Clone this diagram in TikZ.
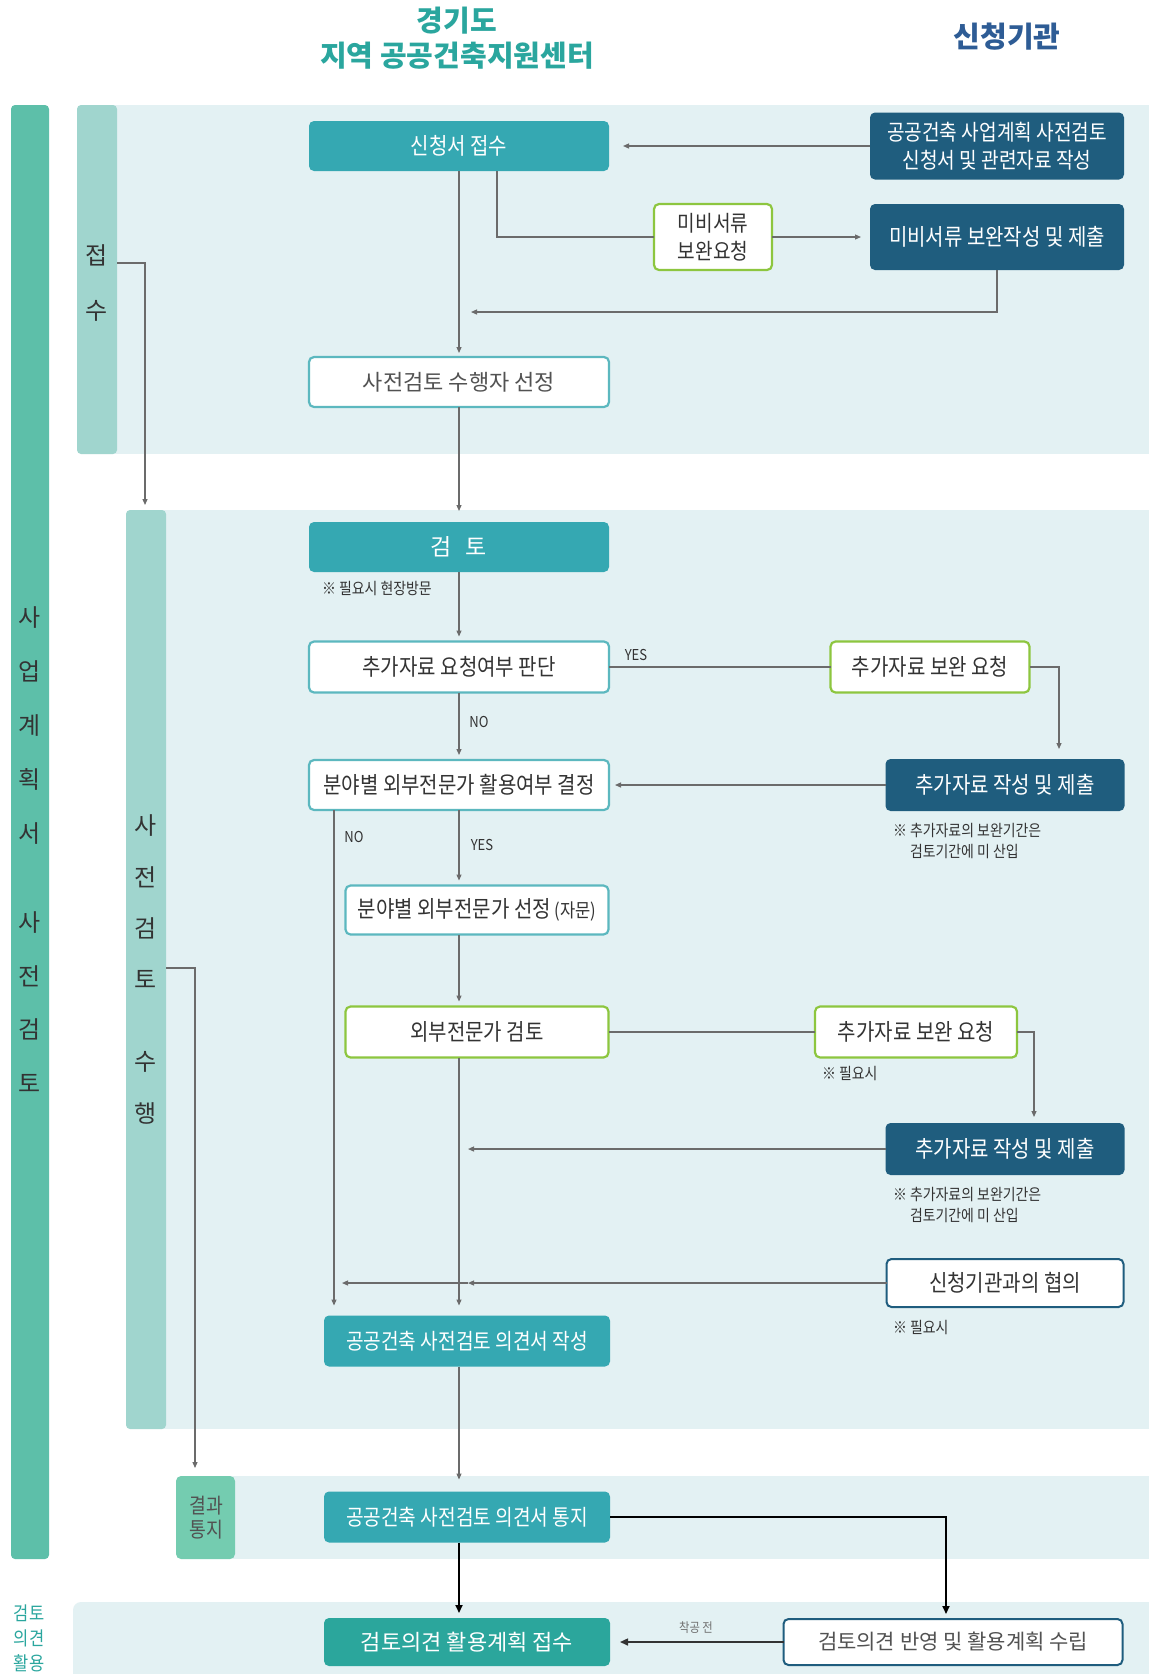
\documentclass[tikz,border=0pt]{standalone}
\usepackage{fontspec}
\setmainfont{Noto Sans CJK KR}
\newfontfamily\kr[FakeStretch=0.87]{Noto Sans CJK KR}
\newfontfamily\krn{Noto Sans CJK KR}
\usetikzlibrary{arrows.meta}
\definecolor{cTeal}{HTML}{35A8B2}
\definecolor{cTealD}{HTML}{2BA69C}
\definecolor{cNavy}{HTML}{1F5D7E}
\definecolor{cTealB}{HTML}{5CB8BF}
\definecolor{cGreen}{HTML}{8DC63F}
\definecolor{cBand}{HTML}{E3F1F3}
\definecolor{cSub}{HTML}{A0D5CE}
\definecolor{cBar}{HTML}{5DBFA9}
\definecolor{cMint}{HTML}{74CCB0}
\definecolor{cLine}{HTML}{6B6B6B}
\definecolor{cText}{HTML}{333333}
\definecolor{cHead}{HTML}{2AA69E}
\definecolor{cHeadB}{HTML}{2E5C95}
\begin{document}
\begin{tikzpicture}[x=1pt,y=-1pt,
  every node/.style={inner sep=0pt, outer sep=0pt},
  base/.style={rectangle, rounded corners=5pt, align=center, font=\kr\fontsize{23}{27}\selectfont},
  tealbox/.style={base, fill=cTeal, text=white},
  navybox/.style={base, fill=cNavy, text=white},
  whitebox/.style={base, fill=white, draw=cTealB, line width=2.2pt, text=cText},
  greenbox/.style={base, fill=white, draw=cGreen, line width=2.2pt, text=cText},
  navyline/.style={base, fill=white, draw=cNavy, line width=2pt, text=cText},
  ln/.style={draw=cLine, line width=1.2pt},
  arr/.style={ln, -{Triangle[length=6pt,width=5pt]}},
  barr/.style={draw=black, line width=1.8pt, -{Triangle[length=8pt,width=7pt]}},
  note/.style={anchor=west, font=\kr\fontsize{16}{21}\selectfont, text=cText, align=left},
  lbl/.style={font=\kr\fontsize{15}{17}\selectfont, text=cText},
  vlab/.style={align=center, font=\krn\fontsize{24}{54}\selectfont, text=cText},
]
\useasboundingbox (0,0) rectangle (1149,1674);
\fill[white] (0,0) rectangle (1149,1674);

% bands
\fill[cBand] (100,105) rectangle (1149,454);
\fill[cSub, rounded corners=4pt] (77,105) rectangle (117,454);
\fill[cBand] (150,510) rectangle (1149,1429);
\fill[cSub, rounded corners=4pt] (126,510) rectangle (166,1429);
\fill[cBand] (220,1476) rectangle (1149,1559);
\fill[cMint, rounded corners=5pt] (176,1476) rectangle (235,1559);
\fill[cBand, rounded corners=8pt] (73,1602) rectangle (1170,1700);
\fill[cBar, rounded corners=4pt] (11,105) rectangle (49,1559);

% headers
\node[font=\krn\bfseries\fontsize{29}{35}\selectfont, text=cHead, align=center] (h1) at (457,38) {경기도\\지역 공공건축지원센터};
\node[font=\krn\bfseries\fontsize{29}{33}\selectfont, text=cHeadB] (h2) at (1007,37) {신청기관};

% side labels
\node[vlab] (v1) at (30,726) {사\\업\\계\\획\\서};
\node[vlab, font=\krn\fontsize{24}{53.6}\selectfont] (v2) at (30,1002) {사\\전\\검\\토};
\node[vlab, font=\krn\fontsize{24}{55}\selectfont] (v3) at (97,283) {접\\수};
\node[vlab, font=\krn\fontsize{24}{51.3}\selectfont] (v4) at (146,902) {사\\전\\검\\토};
\node[vlab, font=\krn\fontsize{24}{52}\selectfont] (v5) at (146,1088) {수\\행};
\node[align=center, font=\kr\fontsize{21}{24}\selectfont, text=cText!85] (v6) at (206,1518) {결과\\통지};
\node[align=center, font=\kr\fontsize{19}{25}\selectfont, text=cHead, anchor=north] (v7) at (29,1605) {검토\\의견\\활용};

% boxes
\node[tealbox, minimum width=300pt, minimum height=50pt] (rec) at (459,146) {신청서 접수};
\node[navybox, minimum width=254pt, minimum height=67pt, font=\kr\fontsize{22}{28}\selectfont] (app) at (997,146) {공공건축 사업계획 사전검토\\신청서 및 관련자료 작성};
\node[greenbox, minimum width=118pt, minimum height=66pt, font=\kr\fontsize{22}{28}\selectfont] (mreq) at (713,237) {미비서류\\보완요청};
\node[navybox, minimum width=254pt, minimum height=66pt] (msub) at (997,237) {미비서류 보완작성 및 제출};
\node[whitebox, minimum width=300pt, minimum height=50pt, font=\krn\fontsize{22}{26}\selectfont, text=cText!85] (sel) at (459,382) {사전검토 수행자 선정};
\node[tealbox, minimum width=300pt, minimum height=50pt, font=\krn\fontsize{23}{27}\selectfont] (rev) at (459,547) {검\hspace{14pt}토};
\node[whitebox, minimum width=300pt, minimum height=51pt] (judge) at (459,667) {추가자료 요청여부 판단};
\node[greenbox, minimum width=199pt, minimum height=51pt] (areq1) at (930,667) {추가자료 보완 요청};
\node[whitebox, minimum width=300pt, minimum height=50pt] (dec) at (459,785) {분야별 외부전문가 활용여부 결정};
\node[navybox, minimum width=239pt, minimum height=52pt] (asub1) at (1005,785) {추가자료 작성 및 제출};
\node[whitebox, minimum width=263pt, minimum height=49pt] (exsel) at (477,910) {분야별 외부전문가 선정\,{\fontsize{19}{22}\selectfont(자문)}};
\node[greenbox, minimum width=263pt, minimum height=51pt] (exrev) at (477,1032) {외부전문가 검토};
\node[greenbox, minimum width=202pt, minimum height=51pt] (areq2) at (916,1032) {추가자료 보완 요청};
\node[navybox, minimum width=239pt, minimum height=52pt] (asub2) at (1005,1149) {추가자료 작성 및 제출};
\node[navyline, minimum width=237pt, minimum height=48pt] (cons) at (1005,1283) {신청기관과의 협의};
\node[tealbox, minimum width=286pt, minimum height=51pt, font=\kr\fontsize{22}{26}\selectfont] (write) at (467,1341) {공공건축 사전검토 의견서 작성};
\node[tealbox, minimum width=286pt, minimum height=51pt, font=\kr\fontsize{22}{26}\selectfont] (noti) at (467,1517) {공공건축 사전검토 의견서 통지};
\node[base, fill=cTealD, text=white, minimum width=286pt, minimum height=48pt, font=\krn\fontsize{22}{26}\selectfont] (plan) at (467,1642) {검토의견 활용계획 접수};
\node[navyline, minimum width=339pt, minimum height=46pt, font=\krn\fontsize{21}{26}\selectfont, text=cText!85] (estab) at (953,1642) {검토의견 반영 및 활용계획 수립};

% notes
\node[note] (n1) at (322,589) {※ 필요시 현장방문};
\node[note] (n2) at (893,841) {※ 추가자료의 보완기간은\\\hspace{17pt}검토기간에 미 산입};
\node[note] (n3) at (822,1074) {※ 필요시};
\node[note] (n4) at (893,1205) {※ 추가자료의 보완기간은\\\hspace{17pt}검토기간에 미 산입};
\node[note] (n5) at (893,1327) {※ 필요시};

% labels
\node[lbl] (yes1) at (636,655) {YES};
\node[lbl] (no1) at (479,722) {NO};
\node[lbl] (no2) at (354,837) {NO};
\node[lbl] (yes2) at (482,845) {YES};
\node[lbl, font=\kr\fontsize{13}{15}\selectfont, text=cText!70] (ch) at (696,1628) {착공 전};

% helper coordinates
\coordinate (mx) at (459,0);
\coordinate (a1) at (497,0);
\coordinate (r1) at (471,312);
\coordinate (x1) at (1059,0);
\coordinate (x2) at (1034,0);
\coordinate (nx) at (334,0);
\coordinate (t1) at (468,1149);
\coordinate (c1) at (468,1283);
\coordinate (c2) at (342,1283);
\coordinate (j0) at (117,263);
\coordinate (j1) at (145,505);
\coordinate (s0) at (166,968);
\coordinate (s1) at (195,1468);
\coordinate (ex) at (946,0);

% connectors top
\draw[arr, shorten >=14pt] (app.west) -- (rec.east);
\draw[ln] (rec.south -| a1) |- (mreq.west);
\draw[arr, shorten >=9pt] (mreq.east) -- (msub.west);
\draw[arr] (msub.south) |- (r1);
\draw[arr, shorten >=4pt] (rec.south) -- (sel.north);
\draw[arr, shorten >=11pt] (sel.south) -- (rev.north);
\draw[arr] (j0) -| (j1);
\draw[arr] (s0) -| (s1);

% middle
\draw[arr, shorten >=5pt] (rev.south) -- (judge.north);
\draw[ln] (judge.east) -- (areq1.west);
\draw[arr, shorten >=10pt] (areq1.east) -| (asub1.north -| x1);
\draw[arr, shorten >=6pt] (asub1.west) -- (dec.east);
\draw[arr, shorten >=5pt] (judge.south) -- (dec.north);
\draw[arr, shorten >=5pt] (dec.south) -- (dec.south |- exsel.north);
\draw[arr, shorten >=10pt] (dec.south -| nx) -- (write.north -| nx);
\draw[arr, shorten >=5pt] (exsel.south -| mx) -- (exrev.north -| mx);
\draw[ln] (exrev.east) -- (areq2.west);
\draw[arr, shorten >=6pt] (areq2.east) -| (asub2.north -| x2);
\draw[arr] (asub2.west) -- (t1);
\draw[arr, shorten >=10pt] (exrev.south -| mx) -- (write.north -| mx);
\draw[arr] (cons.west) -- (c1);
\draw[arr] (c1) -- (c2);
\draw[arr, shorten >=12pt] (write.south -| mx) -- (noti.north -| mx);

% bottom
\draw[barr, shorten >=5pt] (noti.south -| mx) -- (plan.north -| mx);
\draw[barr, shorten >=5pt] (noti.east) -| (estab.north -| ex);
\draw[draw=black!80, line width=1.5pt, -{Triangle[length=8pt,width=7pt]}, shorten >=10pt] (estab.west) -- (plan.east);
\end{tikzpicture}
\end{document}
